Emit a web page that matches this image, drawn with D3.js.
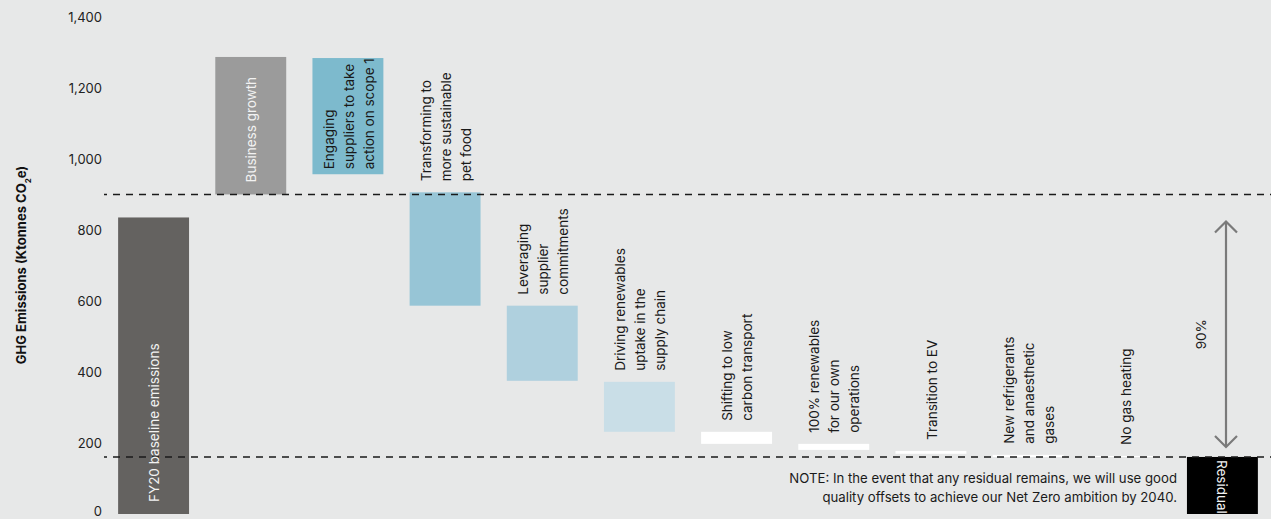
<!DOCTYPE html>
<html>
<head>
<meta charset="utf-8">
<script src="https://cdn.jsdelivr.net/npm/d3@7"></script>
<style>
  html, body { margin: 0; padding: 0; background: #e7e8e8; }
  svg { display: block; font-family: Inter, "Open Sans", sans-serif; }
</style>
</head>
<body>
<svg id="chart"></svg>
<script>
// chart values
const categories = [
  "FY20 baseline emissions", "Business growth", "Engaging suppliers",
  "Transforming pet food", "Leveraging supplier", "Driving renewables",
  "Shifting transport", "100% renewables", "Transition to EV",
  "New refrigerants", "No gas heating", "Residual"
];
const lowValues = [0, 902, 959, 588, 376, 232, 198, 181, 170, 161, 161, 0];
const highValues = [837, 1290, 1287, 908, 588, 373, 232, 198, 178, 167, 164, 161];
const labelLines = [
  ["FY20 baseline emissions"],
  ["Business growth"],
  ["Engaging", "suppliers to take", "action on scope 1"],
  ["Transforming to", "more sustainable", "pet food"],
  ["Leveraging", "supplier", "commitments"],
  ["Driving renewables", "uptake in the", "supply chain"],
  ["Shifting to low", "carbon transport"],
  ["100% renewables", "for our own", "operations"],
  ["Transition to EV"],
  ["New refrigerants", "and anaesthetic", "gases"],
  ["No gas heating"],
  ["Residual"]
];
const yTicks = [0, 200, 400, 600, 800, 1000, 1200, 1400];
const baselineLevel = 902;
const residualLevel = 161;
const reductionLabel = "90%";
const noteLines = [
  "NOTE: In the event that any residual remains, we will use good",
  "quality offsets to achieve our Net Zero ambition by 2040."
];

const data = categories.map((c, i) => ({
  name: c, low: lowValues[i], high: highValues[i], lines: labelLines[i], i: i
}));

// layout
const width = 1271, height = 519;
const svg = d3.select("#chart").attr("width", width).attr("height", height);

const x = d3.scaleBand()
  .domain(categories)
  .range([105, 1271])
  .paddingInner(0.27)
  .paddingOuter(0.135);

const y = d3.scaleLinear().domain([0, 1400]).range([514, 18]);

const colour = d3.scaleOrdinal()
  .domain(categories)
  .range(["#646260", "#9b9b9b", "#7dbacd", "#97c5d6", "#afd0de", "#c9dee7",
          "#ffffff", "#ffffff", "#ffffff", "#ffffff", "#ffffff", "#000000"]);

// inside labels: white text on dark bars
const insideIdx = [0, 1, 2, 11];
const whiteText = [0, 1, 11];

// y axis
const yAxis = d3.axisLeft(y).tickValues(yTicks).tickFormat(d3.format(",")).tickSize(0).tickPadding(0);
const gy = svg.append("g").attr("transform", "translate(102,0)").call(yAxis);
gy.select(".domain").remove();
gy.selectAll("text")
  .attr("fill", "#222")
  .attr("dy", "0.3em")
  .style("font-size", "13px")
  .style("font-family", "Inter, 'Open Sans', sans-serif");
// keep the 0 label inside the frame
gy.selectAll(".tick").filter(d => d === 0).select("text").attr("dy", "0.15em");

svg.append("text")
  .attr("transform", "translate(21," + 265 + ") rotate(-90)")
  .attr("text-anchor", "middle")
  .attr("dy", "0.35em")
  .attr("fill", "#111")
  .style("font-size", "13px")
  .style("font-weight", "700")
  .text("GHG Emissions (Ktonnes CO")
  .call(t => {
    t.append("tspan").attr("baseline-shift", "sub").style("font-size", "8px").text("2");
    t.append("tspan").text("e)");
  });

// bars
svg.append("g")
  .selectAll("rect")
  .data(data)
  .join("rect")
  .attr("x", d => x(d.name))
  .attr("width", x.bandwidth())
  .attr("y", d => y(d.high))
  .attr("height", d => y(d.low) - y(d.high))
  .attr("fill", d => colour(d.name));

// dashed reference lines
[baselineLevel, residualLevel].forEach(v => {
  svg.append("line")
    .attr("x1", 104).attr("x2", width)
    .attr("y1", y(v)).attr("y2", y(v))
    .attr("stroke", "#1a1a1a")
    .attr("stroke-width", 1.5)
    .attr("stroke-dasharray", "7,6")
    .attr("stroke-dashoffset", 4);
});

// labels
const lh = 20;
const labels = svg.append("g")
  .selectAll("text")
  .data(data)
  .join("text")
  .attr("transform", d => {
    const cx = x(d.name) + x.bandwidth() / 2 + 1;
    if (d.i === 11) return "translate(" + (cx - 2) + "," + (y(d.high) + 3) + ") rotate(90)";
    if (insideIdx.includes(d.i)) {
      const off = d.i === 2 ? 5 : 12;
      return "translate(" + cx + "," + (y(d.low) - off) + ") rotate(-90)";
    }
    return "translate(" + cx + "," + (y(d.high) - 11) + ") rotate(-90)";
  })
  .attr("fill", d => whiteText.includes(d.i) ? "#f2f2f2" : "#1a1a1a")
  .style("font-size", "13.5px");

labels.selectAll("tspan")
  .data(d => d.lines.map((l, k) => ({ l: l, k: k, n: d.lines.length })))
  .join("tspan")
  .attr("x", 0)
  .attr("y", t => (t.k - (t.n - 1) / 2) * lh)
  .attr("dy", "0.35em")
  .text(t => t.l);

// 90% arrow
const ax = 1226;
const aTop = y(baselineLevel) + 27;
const aBot = y(residualLevel) - 10;
const arrow = svg.append("g").attr("stroke", "#7a7a7a").attr("stroke-width", 2.2).attr("fill", "none");
arrow.append("line").attr("x1", ax).attr("x2", ax).attr("y1", aTop + 1).attr("y2", aBot - 1);
arrow.append("path").attr("d", `M${ax - 11},${aTop + 11}L${ax},${aTop}L${ax + 11},${aTop + 11}`);
arrow.append("path").attr("d", `M${ax - 11},${aBot - 11}L${ax},${aBot}L${ax + 11},${aBot - 11}`);

svg.append("text")
  .attr("transform", "translate(1201," + ((aTop + aBot) / 2) + ") rotate(-90)")
  .attr("text-anchor", "middle")
  .attr("dy", "0.35em")
  .attr("fill", "#1a1a1a")
  .style("font-size", "13.5px")
  .text(reductionLabel);

// note
svg.append("g")
  .selectAll("text")
  .data(noteLines)
  .join("text")
  .attr("x", 1177)
  .attr("y", (d, i) => 483 + i * 19)
  .attr("text-anchor", "end")
  .attr("fill", "#1a1a1a")
  .style("font-size", "13.2px")
  .text(d => d);
</script>
</body>
</html>
